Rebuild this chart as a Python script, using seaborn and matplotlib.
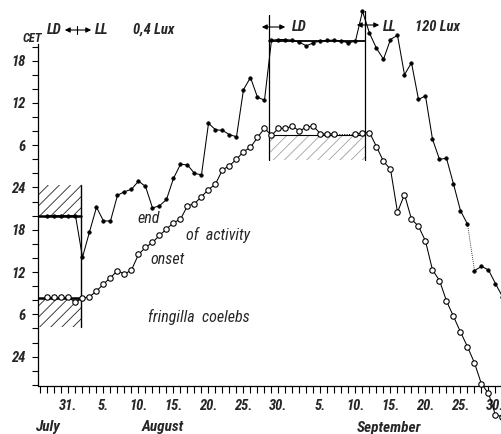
import numpy as np
import pandas as pd
import matplotlib
matplotlib.use("Agg")
import matplotlib.pyplot as plt
import seaborn as sns
from matplotlib import font_manager
from matplotlib.patches import Rectangle, FancyArrowPatch
from matplotlib.lines import Line2D
from matplotlib.ticker import FixedLocator, MultipleLocator

# ---------------------------------------------------------------------------
# data: day 0 = 31 July; hours on a double-plotted scale (24 = midnight,
# 48 = following midnight)
# ---------------------------------------------------------------------------
days = list(range(-3, 63))

onset_hours = [
    32.4, 32.4, 32.4, 32.4, 31.7, 32.3, 32.5, 33.3, 34.3, 35.2,   # -3 .. 6
    36.2, 35.7, 36.3, 38.5, 39.5, 40.2, 41.2, 42.1, 43.0, 43.5,   # 7 .. 16
    45.4, 45.7, 46.7, 47.7, 48.5, 50.5, 51.1, 52.0, 53.1, 53.7,   # 17 .. 26
    55.1, 56.4, 55.4, 56.4, 56.4, 56.7, 56.0, 56.6, 56.7, 55.6,   # 27 .. 36
    55.6, 55.6, np.nan, np.nan, 55.6, 55.7, 55.8, 53.8, 51.7, 50.6,  # 37 .. 46
    44.5, 47.0, 43.5, 42.5, 40.4, 36.3, 34.8, 31.9, 29.7, 27.5,   # 47 .. 56
    25.4, 23.1, 20.1, 18.8, 15.7, 15.5,                           # 57 .. 62
]

end_hours = [
    44.0, 44.0, 44.0, 44.0, 44.0, 38.1, 41.7, 45.2, 43.25, 43.25,  # -3 .. 6
    46.9, 47.4, 47.75, 48.9, 48.15, 45.1, 45.4, 46.3, 49.3, 51.3,  # 7 .. 16
    51.2, 50.0, 49.8, 57.1, 56.2, 56.1, 55.5, 55.2, 61.9, 63.6,    # 17 .. 26
    60.8, 60.4, 68.9, 69.0, 69.0, 68.9, 68.6, 68.1, 68.55, 68.8,   # 27 .. 36
    68.9, 68.9, 68.8, 68.5, 68.8, 73.0, 69.9, 67.75, 66.2, 69.0,   # 37 .. 46
    69.6, 64.0, 65.7, 60.5, 61.0, 54.85, 52.0, 52.15, 48.5, 44.7,  # 47 .. 56
    42.8, 36.2, 36.8, 36.3, 34.35, 32.5,                           # 57 .. 62
]

# light regimes
ld1_switch = 1.75            # LD -> LL
ld2_start, ld2_end = 28.6, 42.3
ld1_lights_off, ld1_lights_on = 44.0, 32.3
ld1_dark_upper = (44.0, 48.4)
ld1_dark_lower = (28.2, 32.3)
ld2_lights_off = 68.8
ld2_dark_lower = (51.9, 55.45)

# date axis
date_ticks = [0, 5, 10, 15, 20, 25, 30, 36, 41, 46, 51, 56, 61]
date_labels = ["31.", "5.", "10.", "15.", "20.", "25.", "30.",
               "5.", "10.", "15.", "20.", "25.", "30."]
hour_ticks = [24, 30, 36, 42, 48, 54, 60, 66]
hour_labels = ["24", "6", "12", "18", "24", "6", "12", "18"]

# ---------------------------------------------------------------------------
W, H = 502, 434


def pick_font():
    names = {f.name for f in font_manager.fontManager.ttflist}
    for n in ["Liberation Sans Narrow", "Roboto Condensed", "Liberation Sans"]:
        if n in names:
            return n
    return "DejaVu Sans"


sns.set_style("ticks")
FONT = pick_font()
plt.rcParams["font.family"] = [FONT, "DejaVu Sans"]
plt.rcParams["hatch.linewidth"] = 0.6

fig = plt.figure(figsize=(W / 100, H / 100), dpi=100)
ax_left, ax_right, ax_bottom, ax_top = 38, 502, 385.5, 43.6
ax = fig.add_axes([ax_left / W, 1 - ax_bottom / H,
                   (ax_right - ax_left) / W, (ax_bottom - ax_top) / H])
ax.set_xlim(-4.357, 61.93)
ax.set_ylim(19.9, 68.42)

df = pd.DataFrame({"day": days, "onset": onset_hours, "end": end_hours})

line_kw = dict(color="black", linewidth=0.75, estimator=None, sort=False,
               clip_on=False, legend=False, ax=ax)

# onset of activity: open circles, broken where no record exists
on = df.dropna(subset=["onset"])
seg_a = on[on["day"] <= 38]
seg_b = on[on["day"] >= 41]
for seg in (seg_a, seg_b):
    sns.lineplot(data=seg, x="day", y="onset", marker="o", markersize=3.9,
                 markerfacecolor="white", markeredgecolor="black",
                 markeredgewidth=0.8, zorder=4, **line_kw)
gap = on[(on["day"] == 38) | (on["day"] == 41)]
ax.plot(gap["day"], gap["onset"], color="black", lw=0.7, ls=(0, (1, 1.5)),
        zorder=3)

# end of activity: small filled dots
end_a = df[df["day"] <= 57]
end_b = df[df["day"] >= 58]
for seg in (end_a, end_b):
    sns.lineplot(data=seg, x="day", y="end", marker="o", markersize=2.6,
                 markerfacecolor="black", markeredgecolor="black",
                 markeredgewidth=0.4, zorder=4, **line_kw)
link = df[(df["day"] == 57) | (df["day"] == 58)]
ax.plot(link["day"], link["end"], color="black", lw=0.6, ls=(0, (1, 1.5)),
        zorder=3)

# dark periods (hatched)
x0 = ax.get_xlim()[0]
for lo, hi in (ld1_dark_upper, ld1_dark_lower):
    ax.add_patch(Rectangle((x0, lo), ld1_switch - x0, hi - lo, fill=False,
                           hatch="///", lw=0, edgecolor="#222222", zorder=1))
ax.add_patch(Rectangle((ld2_start, ld2_dark_lower[0]), ld2_end - ld2_start,
                       ld2_dark_lower[1] - ld2_dark_lower[0], fill=False,
                       hatch="///", lw=0, edgecolor="#a0a0a0", zorder=1))

# light-regime boundaries
ax.plot([ld1_switch, ld1_switch], [ld1_dark_lower[0], ld1_dark_upper[1]],
        color="black", lw=1.0, zorder=3)
ax.plot([x0, ld1_switch], [ld1_lights_off] * 2, color="black", lw=1.8, zorder=3)
ax.plot([x0, ld1_switch], [ld1_lights_on] * 2, color="black", lw=1.8, zorder=3)
for xv, top in ((ld2_start, 72.5), (ld2_end, 73.0)):
    ax.plot([xv, xv], [ld2_dark_lower[0], top], color="black", lw=0.9,
            zorder=3, clip_on=False)
ax.plot([ld2_start, ld2_end], [ld2_lights_off] * 2, color="black", lw=1.3,
        zorder=3, clip_on=False)
ax.plot([ld2_start, ld2_end], [ld2_dark_lower[1]] * 2, color="black", lw=0.8,
        zorder=3)

# axes styling
sns.despine(ax=ax)
for s in ("left", "bottom"):
    ax.spines[s].set_linewidth(0.9)
    ax.spines[s].set_color("black")
ax.xaxis.set_major_locator(FixedLocator(date_ticks))
ax.xaxis.set_minor_locator(MultipleLocator(1))
ax.set_xticklabels(date_labels)
ax.yaxis.set_major_locator(FixedLocator(hour_ticks))
ax.yaxis.set_minor_locator(MultipleLocator(2))
ax.set_yticklabels(hour_labels)
ax.tick_params(axis="x", which="both", direction="out", length=5, width=0.8,
               color="black", pad=5)
ax.tick_params(axis="y", which="both", direction="out", length=4, width=0.8,
               color="black", pad=5)
for lab in ax.get_xticklabels() + ax.get_yticklabels():
    lab.set_fontstyle("italic")
    lab.set_fontsize(10.5)
    lab.set_fontweight("bold")
ax.set_xlabel("")
ax.set_ylabel("")
ax.set_facecolor("white")


def ftxt(x, y, s, size=10.5, ha="left", va="center", weight="bold"):
    fig.text(x / W, 1 - y / H, s, ha=ha, va=va, fontsize=size,
             fontstyle="italic", fontweight=weight)


def farrow(xa, xb, y):
    fig.add_artist(FancyArrowPatch((xa / W, 1 - y / H), (xb / W, 1 - y / H),
                                   transform=fig.transFigure,
                                   arrowstyle="<|-|>,head_length=0.5,head_width=0.25",
                                   mutation_scale=6, lw=0.8, color="black"))


ftxt(22.5, 38, "CET", size=9)
ftxt(62, 30, "LD", ha="right")
farrow(62, 94, 30)
fig.add_artist(Line2D([77 / W, 77 / W], [1 - 26 / H, 1 - 34 / H],
                      transform=fig.transFigure, color="black", lw=0.8))
ftxt(95, 30, "LL")
ftxt(133, 30, "0,4 Lux")
farrow(259, 288, 27)
ftxt(292, 27, "LD")
farrow(354, 382, 25)
ftxt(383, 27, "LL")
ftxt(415, 27, "120 Lux")

ftxt(137, 218, "end", size=11.5, weight="normal")
ftxt(186, 235, "of  activity", size=11.5, weight="normal")
ftxt(150, 260, "onset", size=11.5, weight="normal")
ftxt(148, 317, "fringilla  coelebs", size=11.5, weight="normal")

ftxt(36, 427, "July", size=11)
ftxt(142, 427, "August", size=11)
ftxt(357, 428, "September", size=11)

fig.savefig("out.png", dpi=100, facecolor="white")
